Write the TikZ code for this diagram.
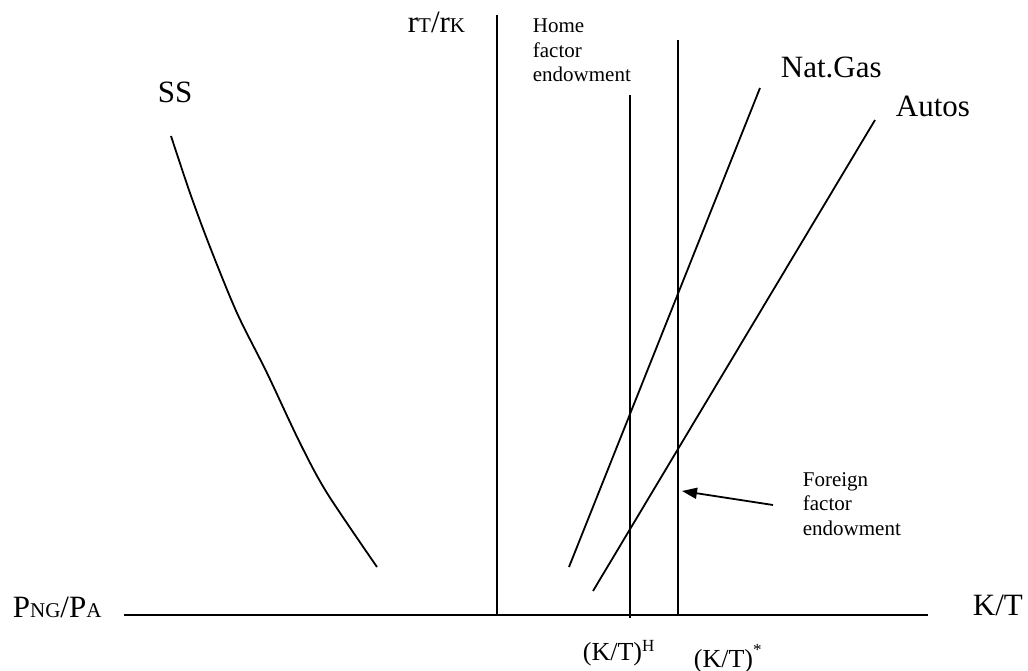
\documentclass[tikz,border=0pt]{standalone}
\usepackage{fontspec}
\setmainfont{Liberation Serif}
\usetikzlibrary{arrows.meta}
\newcommand{\lowsub}[1]{{\fontsize{21}{21}\selectfont #1}}
\begin{document}
\begin{tikzpicture}[x=1pt, y=-1pt, line width=1.8pt,
    biglabel/.style={font=\fontsize{31}{31}\selectfont, anchor=base west, inner sep=0pt},
    ticklabel/.style={font=\fontsize{26}{26}\selectfont, anchor=base west, inner sep=0pt},
    note/.style={font=\fontsize{21}{24.5}\selectfont, anchor=base west, inner sep=0pt, align=left}]
  \useasboundingbox (0,0) rectangle (1028,671);

  % axes
  \coordinate (xleft) at (124,615);
  \coordinate (xright) at (928,615);
  \coordinate (ybottom) at (497,615);
  \coordinate (ytop) at (497,15);
  \draw (xleft) -- (xright);
  \draw (ybottom) -- (ytop);
  \node[biglabel] (pratio) at (12,617) {P\lowsub{NG}/P\lowsub{A}};
  \node[biglabel] (ktaxis) at (972,615) {K/T};
  \node[biglabel] (rratio) at (407,33) {r\lowsub{T}/r\lowsub{K}};

  % SS curve
  \draw plot[smooth] coordinates {(171,136) (190,193) (210,247) (237,313)
    (267,373) (300,443) (327,493) (377,567)};
  \node[biglabel] (sslabel) at (157,103) {SS};

  % sector lines
  \coordinate (gaslow) at (569,567);
  \coordinate (gashigh) at (760,88);
  \coordinate (autolow) at (593,591);
  \coordinate (autohigh) at (875,120);
  \draw (gaslow) -- (gashigh);
  \draw (autolow) -- (autohigh);
  \node[biglabel] (gaslabel) at (780,78) {Nat.Gas};
  \node[biglabel] (autolabel) at (895,117) {Autos};

  % endowments (base anchor sits on the last line)
  \coordinate (homelow) at (630,618);
  \coordinate (homehigh) at (630,95);
  \coordinate (forlow) at (678,615);
  \coordinate (forhigh) at (678,40);
  \draw (homelow) -- (homehigh);
  \draw (forlow) -- (forhigh);
  \node[note] (homenote) at (532,82) {Home\\factor\\endowment};
  \node[note] (fornote) at (802,535) {Foreign\\factor\\endowment};
  \coordinate (arrowstart) at (773,505);
  \coordinate (arrowtip) at (682,491);
  \draw[-{Triangle[length=15pt,width=11pt]}] (arrowstart) -- (arrowtip);

  \node[ticklabel] (homekt) at (582,660)
    {(K/T)\raisebox{9pt}{\fontsize{17}{17}\selectfont H}};
  \node[ticklabel] (forkt) at (693,667)
    {(K/T)\raisebox{12pt}{\fontsize{17}{17}\selectfont *}};
\end{tikzpicture}
\end{document}
